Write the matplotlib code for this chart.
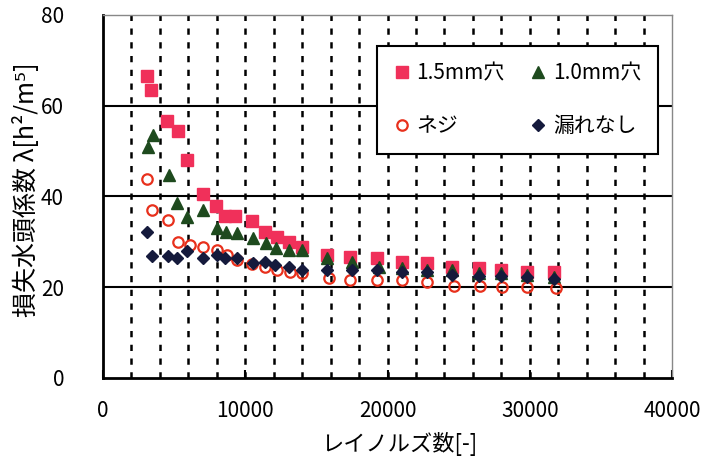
import matplotlib as mpl
mpl.use('Agg')
import matplotlib.pyplot as plt
import numpy as np

plt.rcParams['font.family'] = ['Noto Sans CJK JP', 'DejaVu Sans']

# 1.5mm穴
x_sq = [3100, 3380, 4530, 5260, 5940, 7060, 7960, 8590, 9300, 10470, 11410, 12230,
        13050, 13990, 15750, 17390, 19270, 21030, 22790, 24560, 26430, 28000, 29840, 31710]
y_sq = [66.5, 63.4, 56.6, 54.5, 48.0, 40.5, 38.0, 35.7, 35.7, 34.6, 32.2, 31.1,
        30.0, 28.9, 27.1, 26.7, 26.4, 25.6, 25.3, 24.5, 24.2, 23.8, 23.4, 23.4]
# 1.0mm穴
x_tr = [3150, 3540, 4650, 5230, 5940, 7060, 8010, 8660, 9420, 10510, 11480, 12160,
        13050, 13990, 15750, 17510, 19390, 21030, 22790, 24560, 26430, 28000, 29840, 31710]
y_tr = [50.9, 53.5, 44.7, 38.5, 35.5, 37.0, 33.0, 32.2, 31.9, 30.8, 29.7, 28.6,
        28.2, 28.2, 26.4, 25.6, 24.5, 24.2, 23.8, 23.8, 23.1, 23.1, 22.7, 22.3]
# ネジ
x_ci = [3080, 3430, 4600, 5300, 6130, 7060, 8010, 8710, 9420, 10470, 11410, 12230,
        13170, 13990, 15870, 17390, 19270, 21030, 22790, 24670, 26500, 28080, 29840, 31830]
y_ci = [43.8, 37.0, 34.8, 30.0, 29.3, 28.9, 28.2, 27.1, 26.0, 25.1, 24.5, 23.8,
        23.4, 23.1, 22.0, 21.6, 21.7, 21.6, 21.2, 20.3, 20.3, 20.0, 20.0, 19.8]
# 漏れなし
x_di = [3120, 3430, 4600, 5190, 5890, 7060, 8010, 8590, 9420, 10540, 11410, 12110,
        13050, 13990, 15750, 17510, 19270, 21030, 22790, 24560, 26430, 28000, 29840, 31710]
y_di = [32.2, 26.9, 26.9, 26.4, 28.0, 26.4, 27.1, 26.4, 26.4, 25.3, 25.6, 24.9,
        24.5, 23.8, 23.8, 23.8, 23.8, 23.4, 23.4, 22.7, 22.5, 22.5, 22.3, 21.9]

fig = plt.figure(figsize=(7.04, 4.66), dpi=100)
ax = fig.add_axes([103/704, 1-378/466, 569/704, 363/466])

ax.set_xlim(0, 40000)
ax.set_ylim(0, 80)
ax.set_xticks(np.arange(0, 40001, 10000))
ax.set_xticks(np.arange(0, 40001, 2000), minor=True)
ax.set_yticks(np.arange(0, 81, 20))

for xv in np.arange(2000, 40000, 2000):
    ax.axvline(xv, color='black', lw=1.8, ls=(0, (2.5, 3.0)), zorder=1)
for yv in [20, 40, 60]:
    ax.axhline(yv, color='black', lw=1.5, zorder=1)

h1, = ax.plot(x_sq, y_sq, 's', color='#f0305a', ms=8, mec='#f0305a', ls='none', zorder=3, label='1.5mm穴')
h2, = ax.plot(x_tr, y_tr, '^', color='#1e4a1e', ms=9, ls='none', zorder=4, label='1.0mm穴')
h3, = ax.plot(x_ci, y_ci, 'o', mfc='none', mec='#e8301c', mew=1.6, ms=7.5, ls='none', zorder=5, label='ネジ')
h4, = ax.plot(x_di, y_di, 'D', color='#151a3c', ms=6.5, ls='none', zorder=6, label='漏れなし')

for s in ['left', 'bottom']:
    ax.spines[s].set_linewidth(2)
    ax.spines[s].set_color('black')
for s in ['top', 'right']:
    ax.spines[s].set_linewidth(1)
    ax.spines[s].set_color('#888888')

ax.tick_params(axis='x', which='major', direction='in', length=6, width=1.5, labelsize=15, pad=16)
ax.tick_params(axis='x', which='minor', direction='in', length=0)
ax.tick_params(axis='y', which='major', length=0, labelsize=15, pad=28)

ax.set_xlabel('レイノルズ数[-]', fontsize=16)
ax.xaxis.set_label_coords(0.52, -0.15)
ax.set_ylabel('損失水頭係数 λ[h²/m⁵]', fontsize=18)
ax.yaxis.set_label_coords(-0.11, 0.52)

leg = ax.legend([h1, h3, h2, h4], ['1.5mm穴', 'ネジ', '1.0mm穴', '漏れなし'],
                ncol=2, loc='upper left', bbox_to_anchor=(0.4815, 0.62, 0.4935, 0.2946),
                mode='expand', borderaxespad=0, fontsize=15, labelspacing=1.45, borderpad=0.8,
                handlelength=0.8, handletextpad=0.3, columnspacing=1.0,
                fancybox=False, framealpha=1, edgecolor='black')
leg.get_frame().set_linewidth(1.5)
leg.set_zorder(10)

fig.savefig('out.png', dpi=100)
